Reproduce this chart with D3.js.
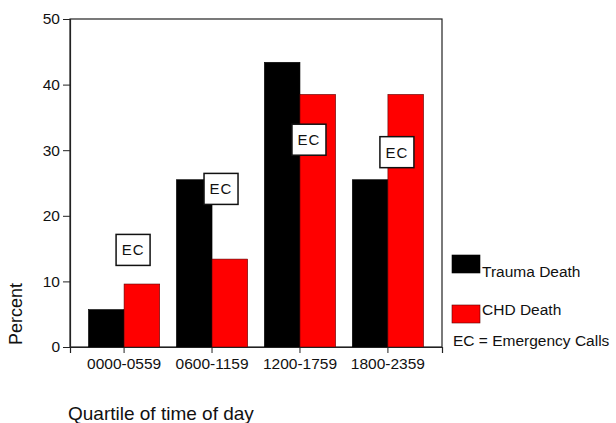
<!DOCTYPE html>
<html>
<head>
<meta charset="utf-8">
<script src="https://cdn.jsdelivr.net/npm/d3@7"></script>
<style>
  body { margin: 0; background: #fff; }
  svg text { font-family: "Liberation Sans", Arial, sans-serif; fill: #111; }
</style>
</head>
<body>
<svg id="chart" width="616" height="423"></svg>
<script>
const categories = ["0000-0559", "0600-1159", "1200-1759", "1800-2359"];
const seriesNames = ["Trauma Death", "CHD Death"];
const traumaDeath = [5.7, 25.5, 43.4, 25.5];
const chdDeath = [9.6, 13.4, 38.5, 38.5];
// EC box centre heights (percent)
const emergencyCalls = [14.8, 24.1, 31.6, 29.7];
const yTicks = [0, 10, 20, 30, 40, 50];
const colors = ["#000000", "#ff0000"];

const svg = d3.select("#chart");
const plot = {left: 70, top: 19, right: 442, bottom: 347};

const x = d3.scaleBand()
  .domain(categories)
  .range([plot.left, plot.right])
  .paddingInner(0.19)
  .paddingOuter(0.21);
const xSub = d3.scaleBand()
  .domain(seriesNames)
  .range([0, x.bandwidth()]);
const y = d3.scaleLinear()
  .domain([0, 50])
  .range([plot.bottom, plot.top]);

// frame
svg.append("rect")
  .attr("x", plot.left)
  .attr("y", plot.top)
  .attr("width", plot.right - plot.left)
  .attr("height", plot.bottom - plot.top)
  .attr("fill", "#fff")
  .attr("stroke", "#222")
  .attr("stroke-width", 1.2);

// bars
const rows = categories.map((c, i) => ({cat: c, values: [traumaDeath[i], chdDeath[i]]}));
const groups = svg.selectAll("g.group")
  .data(rows)
  .enter()
  .append("g")
  .attr("class", "group")
  .attr("transform", d => `translate(${x(d.cat)},0)`);
groups.selectAll("rect")
  .data(d => d.values.map((v, j) => ({name: seriesNames[j], v, j})))
  .enter()
  .append("rect")
  .attr("x", d => xSub(d.name))
  .attr("y", d => y(d.v))
  .attr("width", xSub.bandwidth())
  .attr("height", d => y(0) - y(d.v))
  .attr("fill", d => colors[d.j])
  .attr("stroke", d => d.j ? "#5a0000" : "#000")
  .attr("stroke-width", 0.6);

// EC boxes
const ec = svg.selectAll("g.ec")
  .data(categories)
  .enter()
  .append("g")
  .attr("class", "ec")
  .attr("transform", (d, i) => `translate(${x(d) + x.bandwidth() / 2 + 9},${y(emergencyCalls[i])})`);
ec.append("rect")
  .attr("x", -17)
  .attr("y", -15.5)
  .attr("width", 34)
  .attr("height", 31)
  .attr("fill", "#fff")
  .attr("stroke", "#111")
  .attr("stroke-width", 1.5);
ec.append("text")
  .attr("text-anchor", "middle")
  .attr("dy", "0.36em")
  .attr("font-size", 15)
  .attr("letter-spacing", 1)
  .text("EC");

// axes
const yAxis = svg.append("g")
  .attr("transform", `translate(${plot.left},0)`)
  .call(d3.axisLeft(y).tickValues(yTicks).tickSize(7).tickPadding(3));
const xAxis = svg.append("g")
  .attr("transform", `translate(0,${plot.bottom})`)
  .call(d3.axisBottom(x).tickSize(6).tickPadding(5));
[yAxis, xAxis].forEach(a => {
  a.select(".domain").attr("stroke", "#222").attr("stroke-width", 1.2);
  a.selectAll(".tick line").attr("stroke", "#222");
  a.selectAll(".tick text")
    .attr("font-family", "Liberation Sans, Arial, sans-serif")
    .attr("font-size", 15.5)
    .attr("fill", "#111");
});

// axis titles
svg.append("text")
  .attr("transform", "translate(22,314) rotate(-90)")
  .attr("text-anchor", "middle")
  .attr("font-size", 18)
  .text("Percent");
svg.append("text")
  .attr("x", 68)
  .attr("y", 420)
  .attr("font-size", 19)
  .text("Quartile of time of day");

// legend
const legend = [
  {name: seriesNames[0], color: colors[0], ry: 255, ty: 277},
  {name: seriesNames[1], color: colors[1], ry: 305, ty: 315}
];
const lg = svg.selectAll("g.legend")
  .data(legend)
  .enter()
  .append("g")
  .attr("class", "legend");
lg.append("rect")
  .attr("x", 452)
  .attr("y", d => d.ry)
  .attr("width", 28)
  .attr("height", 18)
  .attr("fill", d => d.color)
  .attr("stroke", d => d.color === "#000000" ? "#000" : "#5a0000")
  .attr("stroke-width", 0.6);
lg.append("text")
  .attr("x", 482)
  .attr("y", d => d.ty)
  .attr("font-size", 15.5)
  .text(d => d.name);
svg.append("text")
  .attr("x", 453)
  .attr("y", 346)
  .attr("font-size", 15.5)
  .text("EC = Emergency Calls");
</script>
</body>
</html>
